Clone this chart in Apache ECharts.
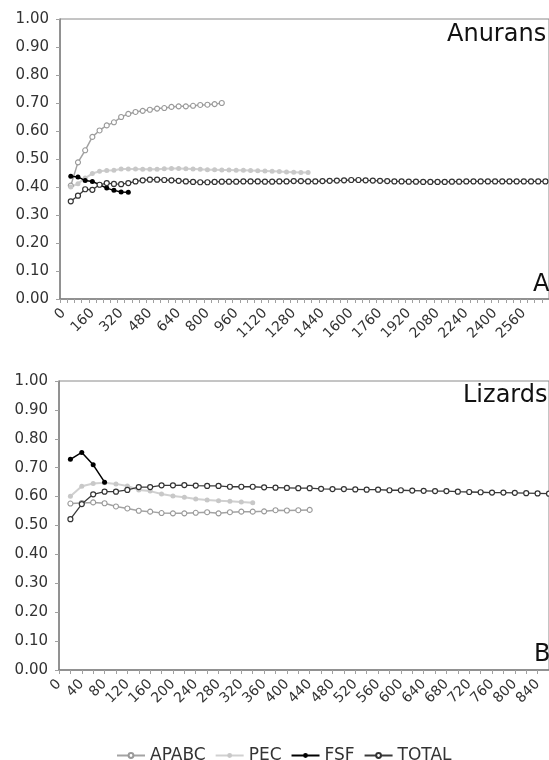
<!DOCTYPE html>
<html><head><meta charset="utf-8">
<script src="https://cdn.jsdelivr.net/npm/echarts@6/dist/echarts.min.js"></script>
<style>html,body{margin:0;padding:0;background:#fff}#c{width:549px;height:760px}</style>
</head><body><div id="c"></div><script>
// ---- Panel A (Anurans): categories every 40, data begin at 40 ----
const topCategories = [0,40,80,120,160,200,240,280,320,360,400,440,480,520,560,600,640,680,720,760,800,840,880,920,960,1000,1040,1080,1120,1160,1200,1240,1280,1320,1360,1400,1440,1480,1520,1560,1600,1640,1680,1720,1760,1800,1840,1880,1920,1960,2000,2040,2080,2120,2160,2200,2240,2280,2320,2360,2400,2440,2480,2520,2560,2600,2640,2680];
const topAPABC = [0.405,0.488,0.531,0.579,0.602,0.620,0.631,0.650,0.661,0.668,0.672,0.676,0.680,0.682,0.686,0.688,0.688,0.690,0.693,0.694,0.696,0.700];
const topPEC = [0.400,0.412,0.432,0.448,0.456,0.459,0.460,0.464,0.464,0.464,0.463,0.463,0.463,0.465,0.466,0.466,0.465,0.464,0.463,0.462,0.462,0.461,0.461,0.460,0.460,0.459,0.458,0.457,0.456,0.455,0.454,0.453,0.452,0.452];
const topFSF = [0.438,0.436,0.423,0.420,0.408,0.396,0.388,0.382,0.381];
const topTOTAL = [0.349,0.369,0.392,0.390,0.408,0.414,0.411,0.410,0.414,0.420,0.424,0.426,0.426,0.425,0.424,0.422,0.420,0.418,0.417,0.417,0.418,0.419,0.419,0.419,0.420,0.420,0.420,0.419,0.419,0.420,0.420,0.421,0.421,0.420,0.420,0.421,0.422,0.423,0.424,0.425,0.425,0.424,0.423,0.422,0.421,0.420,0.420,0.419,0.419,0.418,0.418,0.418,0.418,0.419,0.419,0.420,0.420,0.420,0.420,0.420,0.420,0.420,0.420,0.420,0.420,0.420,0.420];

// ---- Panel B (Lizards): categories every 20, data begin at 20 ----
const botCategories = [0,20,40,60,80,100,120,140,160,180,200,220,240,260,280,300,320,340,360,380,400,420,440,460,480,500,520,540,560,580,600,620,640,660,680,700,720,740,760,780,800,820,840,860];
const botAPABC = [0.576,0.578,0.580,0.577,0.566,0.559,0.551,0.548,0.543,0.542,0.542,0.544,0.546,0.542,0.546,0.548,0.548,0.549,0.553,0.552,0.553,0.554];
const botPEC = [0.601,0.636,0.645,0.648,0.644,0.637,0.623,0.619,0.609,0.602,0.598,0.592,0.588,0.586,0.584,0.581,0.579];
const botFSF = [0.729,0.753,0.710,0.650];
const botTOTAL = [0.522,0.574,0.608,0.617,0.617,0.623,0.633,0.633,0.639,0.639,0.640,0.638,0.637,0.637,0.634,0.634,0.634,0.632,0.631,0.630,0.629,0.629,0.627,0.626,0.626,0.625,0.624,0.624,0.622,0.622,0.621,0.620,0.619,0.619,0.617,0.616,0.615,0.614,0.614,0.613,0.612,0.611,0.610];

const seriesNames = ['APABC','PEC','FSF','TOTAL'];
const yTickLabels = ['0.00','0.10','0.20','0.30','0.40','0.50','0.60','0.70','0.80','0.90','1.00'];

const FONT = '"DejaVu Sans", Verdana, sans-serif';
const axisColor = '#808080';
function pad(arr){ return ['-'].concat(arr); }

function xAxis(gi, cats, bgap, labInt){
  return {type:'category', gridIndex:gi, data:cats.map(String), boundaryGap:bgap,
    axisLine:{show:true, onZero:false, lineStyle:{color:axisColor, width:1.5}},
    axisTick:{show:true, interval:0, length:4, alignWithLabel:false, lineStyle:{color:'#a0a0a0'}},
    axisLabel:{interval:labInt, rotate:45, margin:12, fontFamily:FONT, fontSize:14, color:'#333'},
    splitLine:{show:false}};
}
function yAxis(gi){
  return {type:'value', gridIndex:gi, min:0, max:1, interval:0.1,
    axisLine:{show:true, lineStyle:{color:axisColor, width:1.5}},
    axisTick:{show:true, length:4, lineStyle:{color:'#a0a0a0'}},
    axisLabel:{formatter:function(v){ return yTickLabels[Math.round(v*10)]; }, margin:11, fontFamily:FONT, fontSize:15, color:'#333'},
    splitLine:{show:false}};
}
const styles = {
  APABC:{line:{color:'#a3a3a3', width:1.5}, item:{color:'#fff', borderColor:'#999', borderWidth:1.1}, z:2},
  PEC:{line:{color:'#d0d0d0', width:2}, item:{color:'#c8c8c8', borderColor:'#c8c8c8', borderWidth:0}, z:2},
  FSF:{line:{color:'#000', width:1.5}, item:{color:'#000', borderColor:'#000', borderWidth:0}, z:3},
  TOTAL:{line:{color:'#3a3a3a', width:1.3}, item:{color:'#fff', borderColor:'#333', borderWidth:1.2}, z:4}
};
function mk(name, gi, values){
  const s = styles[name];
  return {name:name, type:'line', xAxisIndex:gi, yAxisIndex:gi, data:pad(values),
    symbol:'circle', symbolSize:5, showSymbol:true, showAllSymbol:true, connectNulls:false,
    lineStyle:s.line, itemStyle:s.item, z:s.z, emphasis:{disabled:true}};
}

const chart = echarts.init(document.getElementById('c'), null, {renderer:'canvas'});
chart.setOption({
  animation:false,
  backgroundColor:'#fff',
  grid:[
    {left:60, top:19, width:510, height:280, show:true, borderColor:'#8a8a8a', borderWidth:1, backgroundColor:'transparent'},
    {left:59, top:381, width:43*11.53, height:289, show:true, borderColor:'#8a8a8a', borderWidth:1, backgroundColor:'transparent'}
  ],
  xAxis:[xAxis(0, topCategories, true, 3), xAxis(1, botCategories, false, 1)],
  yAxis:[yAxis(0), yAxis(1)],
  legend:{data:seriesNames, left:111, top:742, itemWidth:28, itemHeight:6, itemGap:9,
    textStyle:{fontFamily:FONT, fontSize:17, color:'#333'}},
  graphic:[
    {type:'text', x:447, y:35, style:{text:'Anurans', font:'24px "DejaVu Sans"', fill:'#111', verticalAlign:'middle'}},
    {type:'text', x:533, y:285, style:{text:'A', font:'24px "DejaVu Sans"', fill:'#111', verticalAlign:'middle'}},
    {type:'text', x:463, y:396, style:{text:'Lizards', font:'24px "DejaVu Sans"', fill:'#111', verticalAlign:'middle'}},
    {type:'text', x:534, y:655, style:{text:'B', font:'24px "DejaVu Sans"', fill:'#111', verticalAlign:'middle'}}
  ],
  series:[
    mk('APABC',0,topAPABC), mk('PEC',0,topPEC), mk('FSF',0,topFSF), mk('TOTAL',0,topTOTAL),
    mk('APABC',1,botAPABC), mk('PEC',1,botPEC), mk('FSF',1,botFSF), mk('TOTAL',1,botTOTAL)
  ]
});
</script></body></html>
